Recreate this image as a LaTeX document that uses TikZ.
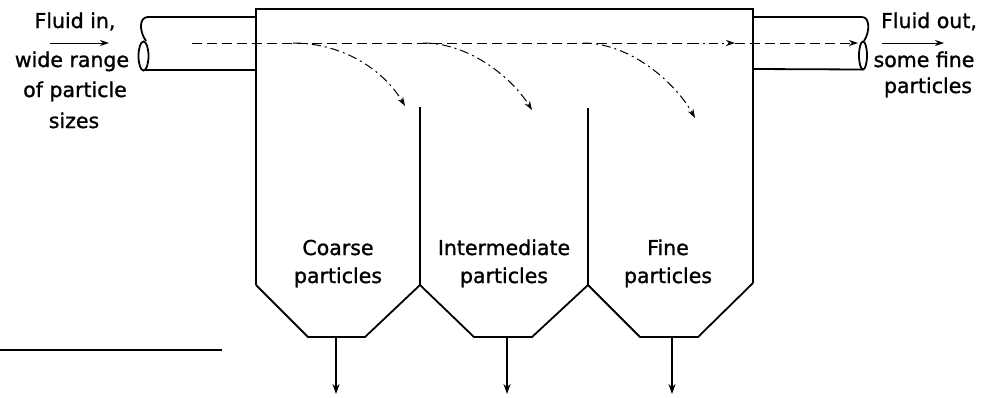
\documentclass[tikz,border=0pt]{standalone}
\usepackage{fontspec}
\setmainfont[FakeBold=1.2]{DejaVu Sans}
\usetikzlibrary{arrows.meta}
\tikzset{
  wall/.style={line width=1.8pt, line join=miter},
  flow/.style={line width=1pt, dash pattern=on 10pt off 5pt},
  flowdot/.style={line width=1pt, dash pattern=on 9pt off 4pt on 2pt off 4pt},
  tip/.style={-{Stealth[length=9pt,width=6pt]}},
  lbl/.style={font=\fontsize{20.5}{24}\selectfont, inner sep=0pt, anchor=base},
  outlet/.style={line width=1.8pt, -{Stealth[length=10pt,width=7pt]}}
}
\begin{document}
\begin{tikzpicture}[x=1pt,y=-1pt]
\useasboundingbox (0,0) rectangle (992,397);
% main vessel
\draw[wall] (256,285) -- (256,9) -- (753,9) -- (753,283);
% partitions
\draw[wall] (420,107) -- (420,285);
\draw[wall] (588,108) -- (588,285);
% hoppers
\draw[wall] (256,285) -- (308,337) -- (365,337) -- (420,285)
  -- (474,337) -- (532,337) -- (588,285)
  -- (640,337) -- (698,337) -- (753,283);
% inlet pipe
\draw[wall] (256,17) -- (148,17) .. controls (139,17) and (139,31) .. (146,41);
\draw[wall] (143.5,56) ellipse [x radius=5, y radius=14.5];
\draw[wall] (145,70) -- (256,70);
% outlet pipe
\draw[wall] (753,17) -- (862,17) .. controls (870,17) and (870,32) .. (864,41);
\draw[wall] (863,55.5) ellipse [x radius=4, y radius=14];
\draw[wall] (863,69.5) -- (753,69);
% centre flow line
\coordinate (fs) at (192,43);
\coordinate (fm) at (735,43);
\coordinate (fe) at (858,43);
\draw[flow] (fs) -- (690,43);
\draw[flowdot,tip] (690,43) -- (fm);
\draw[flow,tip] (fm) -- (fe);
% settling paths
\coordinate (c1s) at (293,43);  \coordinate (c1e) at (405,106);
\coordinate (c2s) at (423,43);  \coordinate (c2e) at (532,110);
\coordinate (c3s) at (583,43);  \coordinate (c3e) at (695,118);
\draw[flowdot,tip] (c1s) .. controls (345,43) and (385,72) .. (c1e);
\draw[flowdot,tip] (c2s) .. controls (470,43) and (512,78) .. (c2e);
\draw[flowdot,tip] (c3s) .. controls (630,43) and (675,82) .. (c3e);
% outlets
\coordinate (o1s) at (336,337); \coordinate (o1e) at (336,394);
\coordinate (o2s) at (507,337); \coordinate (o2e) at (507,394);
\coordinate (o3s) at (672,337); \coordinate (o3e) at (672,394);
\draw[outlet] (o1s) -- (o1e);
\draw[outlet] (o2s) -- (o2e);
\draw[outlet,line width=2.4pt] (o3s) -- (o3e);
% bottom-left rule
\draw[line width=2.8pt] (0,350) -- (222,350);
% labels left
\node[lbl] (in1) at (75,28) {Fluid in,};
\coordinate (ia) at (50,43); \coordinate (ib) at (109,43);
\draw[line width=1pt,tip] (ia) -- (ib);
\node[lbl] (in2) at (72,67) {wide range};
\node[lbl] (in3) at (75,97) {of particle};
\node[lbl] (in4) at (74,128) {sizes};
% labels right
\node[lbl] (out1) at (929,28) {Fluid out,};
\coordinate (oa) at (882,43); \coordinate (ob) at (944,43);
\draw[line width=1pt,tip] (oa) -- (ob);
\node[lbl] (out2) at (924,67) {some fine};
\node[lbl] (out3) at (928,93) {particles};
% chamber labels
\node[lbl] (co1) at (338,255) {Coarse};
\node[lbl] (co2) at (338,283) {particles};
\node[lbl] (im1) at (504,255) {Intermediate};
\node[lbl] (im2) at (504,283) {particles};
\node[lbl] (fi1) at (668,255) {Fine};
\node[lbl] (fi2) at (668,283) {particles};
\end{tikzpicture}
\end{document}
